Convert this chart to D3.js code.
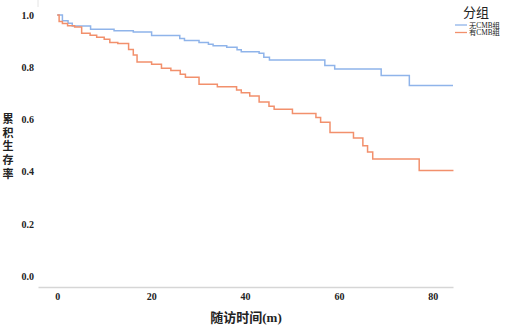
<!DOCTYPE html>
<html>
<head>
<meta charset="utf-8">
<script src="https://cdn.jsdelivr.net/npm/d3@7"></script>
<style>
  body { margin: 0; background: #fff; }
  svg { display: block; }
</style>
</head>
<body>
<div id="chart"></div>
<script>
// Kaplan-Meier curves
const groups = ["无CMB组", "有CMB组"];
const colors = ["#8fb4ea", "#f2906c"];

const noCmbTime = [0, 1.1, 2.3, 3.2, 7.1, 12.1, 16.2, 20.1, 26.1, 27.1, 30.2, 32.2, 33.2, 36.1, 38.3, 39.2, 43.0, 44.0, 45.2, 57.0, 59.1, 69.0, 75.0, 84.3];
const noCmbSurv = [1.0, 0.978, 0.968, 0.958, 0.945, 0.940, 0.935, 0.921, 0.910, 0.902, 0.895, 0.888, 0.882, 0.876, 0.867, 0.859, 0.853, 0.838, 0.828, 0.807, 0.793, 0.768, 0.730, 0.730];

const cmbTime = [0, 0.4, 1.1, 2.2, 3.7, 5.2, 7.0, 8.4, 10.0, 11.2, 12.9, 15.2, 16.2, 17.0, 20.1, 22.2, 24.2, 26.2, 27.3, 30.2, 34.1, 38.2, 39.2, 41.0, 43.0, 45.1, 46.2, 50.1, 55.1, 56.1, 58.1, 63.1, 65.1, 66.1, 67.2, 77.1, 84.4];
const cmbSurv = [1.0, 0.975, 0.967, 0.959, 0.954, 0.930, 0.922, 0.915, 0.907, 0.895, 0.891, 0.868, 0.847, 0.820, 0.811, 0.796, 0.787, 0.773, 0.762, 0.735, 0.725, 0.713, 0.702, 0.690, 0.667, 0.650, 0.639, 0.623, 0.607, 0.589, 0.550, 0.529, 0.499, 0.475, 0.448, 0.404, 0.404];

const xTicks = [0, 20, 40, 60, 80];
const yTicks = [0.0, 0.2, 0.4, 0.6, 0.8, 1.0];

const width = 511, height = 327;

const svg = d3.select("#chart")
  .append("svg")
  .attr("width", width)
  .attr("height", height);

const x = d3.scaleLinear()
  .domain([-4.1, 84.3])
  .range([38, 453]);

const y = d3.scaleLinear()
  .domain([-0.042, 1.0])
  .range([287, 15]);

// x axis
const xAxis = svg.append("g")
  .attr("transform", "translate(0,287)")
  .call(d3.axisBottom(x).tickValues(xTicks).tickSize(0).tickSizeOuter(0).tickPadding(6));
xAxis.select(".domain").attr("stroke", "#d6d6d6").attr("stroke-width", 1.5);
xAxis.selectAll("text")
  .attr("font-family", "'Liberation Serif', serif")
  .attr("font-weight", "bold")
  .attr("font-size", 10)
  .attr("fill", "#222");

// y axis, labels only
const yAxis = svg.append("g")
  .attr("transform", "translate(34,0)")
  .call(d3.axisLeft(y).tickValues(yTicks).tickFormat(d3.format(".1f")).tickSize(0).tickPadding(0));
yAxis.select(".domain").remove();
yAxis.selectAll("text")
  .attr("font-family", "'Liberation Serif', serif")
  .attr("font-weight", "bold")
  .attr("font-size", 10)
  .attr("fill", "#222");

// faint stub of the y axis line at the top
svg.append("line")
  .attr("x1", 38).attr("x2", 38)
  .attr("y1", 0).attr("y2", 7)
  .attr("stroke", "#e4e4e4")
  .attr("stroke-width", 1);

// titles
svg.append("text")
  .attr("x", 246)
  .attr("y", 322)
  .attr("text-anchor", "middle")
  .attr("font-family", "'Liberation Serif', 'Noto Sans CJK SC', serif")
  .attr("font-weight", "bold")
  .attr("font-size", 13)
  .attr("fill", "#222")
  .text("随访时间(m)");

// vertical y title, one text element
svg.append("text")
  .attr("x", 8)
  .attr("y", 113)
  .style("writing-mode", "vertical-rl")
  .style("letter-spacing", "2.9px")
  .attr("font-family", "'Noto Sans CJK SC', sans-serif")
  .attr("font-weight", "bold")
  .attr("font-size", 11)
  .attr("fill", "#222")
  .text("累积生存率");

// curves
const line = d3.line()
  .x(d => x(d[0]))
  .y(d => y(d[1]))
  .curve(d3.curveStepAfter);

const series = [
  d3.zip(noCmbTime, noCmbSurv),
  d3.zip(cmbTime, cmbSurv)
];

svg.selectAll(".curve")
  .data(series)
  .enter()
  .append("path")
  .attr("class", "curve")
  .attr("d", line)
  .attr("fill", "none")
  .attr("stroke", (d, i) => colors[i])
  .attr("stroke-width", 1.5);

// legend
svg.append("text")
  .attr("x", 476)
  .attr("y", 17)
  .attr("text-anchor", "middle")
  .attr("font-family", "'Noto Sans CJK SC', sans-serif")
  .attr("font-size", 13)
  .attr("fill", "#222")
  .text("分组");

const legend = svg.append("g")
  .selectAll("g")
  .data(groups)
  .enter()
  .append("g")
  .attr("transform", (d, i) => `translate(455,${25 + i * 7.5})`);

legend.append("line")
  .attr("x1", 0).attr("x2", 12)
  .attr("y1", 0).attr("y2", 0)
  .attr("stroke", (d, i) => colors[i])
  .attr("stroke-width", 1.3);

legend.append("text")
  .attr("x", 14)
  .attr("y", 2.5)
  .attr("font-family", "'Liberation Serif', 'Noto Sans CJK SC', serif")
  .attr("font-size", 7.3)
  .attr("fill", "#222")
  .text(d => d);
</script>
</body>
</html>
